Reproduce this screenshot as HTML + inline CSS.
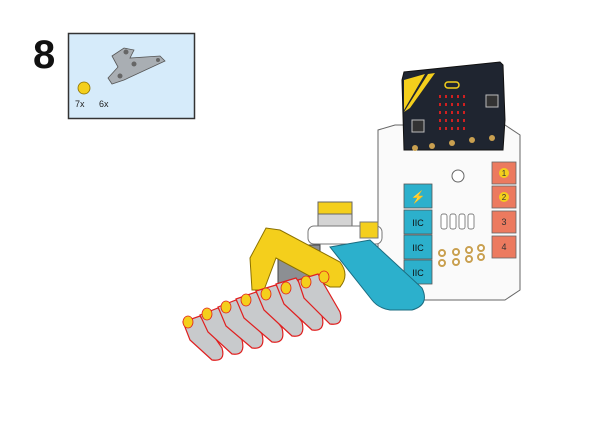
<!DOCTYPE html>
<html><head><meta charset="utf-8"><style>
html,body{margin:0;padding:0;background:#fff;width:600px;height:424px;overflow:hidden}
svg{display:block}
text{font-family:"Liberation Sans",sans-serif}
</style></head><body>
<svg width="600" height="424" viewBox="0 0 600 424">
<text x="33" y="68" font-size="40" font-weight="bold" fill="#111">8</text>
<rect x="68.5" y="33.5" width="126" height="85" fill="#d6ebfa" stroke="#333" stroke-width="1.5"/>
<path d="M112 56 L124 48 L134 50 L130 58 L160 56 L165 61 L124 80 L112 84 L108 78 L118 67 Z" fill="#a9aeb3" stroke="#555" stroke-width="0.8"/>
<circle cx="126" cy="52" r="2.5" fill="#666"/><circle cx="120" cy="76" r="2.5" fill="#666"/><circle cx="158" cy="60" r="2" fill="#666"/><circle cx="134" cy="64" r="2.5" fill="#666"/>
<ellipse cx="84" cy="88" rx="6" ry="6" fill="#f4cf1c" stroke="#8a7000" stroke-width="0.8"/>
<text x="75" y="107" font-size="9" fill="#222">7x</text>
<text x="99" y="107" font-size="9" fill="#222">6x</text>

<path d="M378 130 L395 125 L505 125 L520 135 L520 290 L505 300 L390 300 L378 290 Z" fill="#fafafa" stroke="#666" stroke-width="1"/>
<path d="M402 80 L404 72 L500 62 L503 65 L505 120 L503 150 L404 150 Z" fill="#1f2530" stroke="#111"/>
<polygon points="404,80 425,74 404,110" fill="#f4cf1c"/>
<polygon points="428,74 435,73 410,108 404,112" fill="#f4cf1c"/>
<rect x="445" y="82" width="14" height="6" rx="3" fill="none" stroke="#f4cf1c" stroke-width="1.5"/>
<g fill="#d02020">
<rect x="439" y="95" width="2" height="3"/><rect x="445" y="95" width="2" height="3"/><rect x="451" y="95" width="2" height="3"/><rect x="457" y="95" width="2" height="3"/><rect x="463" y="95" width="2" height="3"/>
<rect x="439" y="103" width="2" height="3"/><rect x="445" y="103" width="2" height="3"/><rect x="451" y="103" width="2" height="3"/><rect x="457" y="103" width="2" height="3"/><rect x="463" y="103" width="2" height="3"/>
<rect x="439" y="111" width="2" height="3"/><rect x="445" y="111" width="2" height="3"/><rect x="451" y="111" width="2" height="3"/><rect x="457" y="111" width="2" height="3"/><rect x="463" y="111" width="2" height="3"/>
<rect x="439" y="119" width="2" height="3"/><rect x="445" y="119" width="2" height="3"/><rect x="451" y="119" width="2" height="3"/><rect x="457" y="119" width="2" height="3"/><rect x="463" y="119" width="2" height="3"/>
<rect x="439" y="127" width="2" height="3"/><rect x="445" y="127" width="2" height="3"/><rect x="451" y="127" width="2" height="3"/><rect x="457" y="127" width="2" height="3"/><rect x="463" y="127" width="2" height="3"/>
</g>
<rect x="412" y="120" width="12" height="12" fill="#333" stroke="#bbb"/>
<rect x="486" y="95" width="12" height="12" fill="#333" stroke="#bbb"/>
<g fill="#c9a050"><circle cx="415" cy="148" r="3"/><circle cx="432" cy="146" r="3"/><circle cx="452" cy="143" r="3"/><circle cx="472" cy="140" r="3"/><circle cx="492" cy="138" r="3"/></g>
<circle cx="458" cy="176" r="6" fill="#fff" stroke="#666"/>
<g stroke="#666" stroke-width="0.8">
<rect x="492" y="162" width="24" height="22" fill="#ec7a5f"/>
<rect x="492" y="186" width="24" height="22" fill="#ec7a5f"/>
<rect x="492" y="211" width="24" height="22" fill="#ec7a5f"/>
<rect x="492" y="236" width="24" height="22" fill="#ec7a5f"/>
</g>
<circle cx="504" cy="173" r="5" fill="#f4cf1c"/><circle cx="504" cy="197" r="5" fill="#f4cf1c"/>
<text x="504" y="176" font-size="8" text-anchor="middle" fill="#333">1</text>
<text x="504" y="200" font-size="8" text-anchor="middle" fill="#333">2</text>
<text x="504" y="225" font-size="9" text-anchor="middle" fill="#333">3</text>
<text x="504" y="250" font-size="9" text-anchor="middle" fill="#333">4</text>
<g fill="#fff" stroke="#555" stroke-width="0.7"><rect x="441" y="214" width="6" height="15" rx="2"/><rect x="450" y="214" width="6" height="15" rx="2"/><rect x="459" y="214" width="6" height="15" rx="2"/><rect x="468" y="214" width="6" height="15" rx="2"/></g>
<g fill="#fff" stroke="#c9a050" stroke-width="2"><circle cx="442" cy="253" r="3"/><circle cx="456" cy="252" r="3"/><circle cx="469" cy="250" r="3"/><circle cx="481" cy="248" r="3"/><circle cx="442" cy="263" r="3"/><circle cx="456" cy="262" r="3"/><circle cx="469" cy="259" r="3"/><circle cx="481" cy="257" r="3"/></g>
<g stroke="#555" stroke-width="0.8">
<rect x="404" y="184" width="28" height="24" fill="#2cb0cc"/>
<rect x="404" y="210" width="28" height="24" fill="#2cb0cc"/>
<rect x="404" y="235" width="28" height="24" fill="#2cb0cc"/>
<rect x="404" y="260" width="28" height="24" fill="#2cb0cc"/>
</g>
<text x="418" y="201" font-size="12" text-anchor="middle" fill="#111">⚡</text>
<text x="418" y="226" font-size="9" text-anchor="middle" fill="#111">IIC</text>
<text x="418" y="251" font-size="9" text-anchor="middle" fill="#111">IIC</text>
<text x="418" y="276" font-size="9" text-anchor="middle" fill="#111">IIC</text>
<rect x="318" y="208" width="34" height="36" fill="#d4d4d4" stroke="#666"/>
<rect x="318" y="202" width="34" height="12" fill="#f4cf1c" stroke="#666"/>
<rect x="308" y="226" width="74" height="18" rx="6" fill="#fff" stroke="#777"/>
<rect x="360" y="222" width="18" height="16" fill="#f4cf1c" stroke="#777"/>
<path d="M330 247 L370 240 L422 288 Q430 305 412 310 L390 310 Q378 308 372 300 Z" fill="#2cb0cc" stroke="#1b6c80" stroke-width="1"/>
<rect x="278" y="245" width="42" height="55" fill="#8c8f93" stroke="#444"/>
<!-- yellow frame -->
<path d="M250 258 L266 228 L280 230 L340 262 Q350 275 340 287 L330 287 L276 258 L264 290 L252 290 Z" fill="#f4cf1c" stroke="#8a7000" stroke-width="1"/>
<g fill="#c8cacc" stroke="#e02020" stroke-width="1.2">
<path d="M183 322 L200 316 L222 348 Q226 362 212 360 L190 340 Z"/>
<path d="M200 315 L218 308 L242 340 Q246 356 232 354 L208 332 Z"/>
<path d="M218 307 L236 300 L262 334 Q266 350 252 348 L226 326 Z"/>
<path d="M236 299 L256 292 L282 328 Q286 344 272 342 L244 318 Z"/>
<path d="M256 291 L276 285 L302 322 Q306 338 292 336 L264 310 Z"/>
<path d="M276 284 L296 278 L322 316 Q326 332 312 330 L284 304 Z"/>
<path d="M298 280 L318 274 L340 312 Q344 326 330 324 L304 298 Z"/>
</g>
<g fill="#f4cf1c" stroke="#e02020" stroke-width="0.8">
<ellipse cx="188" cy="322" rx="5" ry="6"/><ellipse cx="207" cy="314" rx="5" ry="6"/><ellipse cx="226" cy="307" rx="5" ry="6"/><ellipse cx="246" cy="300" rx="5" ry="6"/><ellipse cx="266" cy="294" rx="5" ry="6"/><ellipse cx="286" cy="288" rx="5" ry="6"/><ellipse cx="306" cy="282" rx="5" ry="6"/><ellipse cx="324" cy="277" rx="5" ry="6"/>
</g>
</svg>
</body></html>
